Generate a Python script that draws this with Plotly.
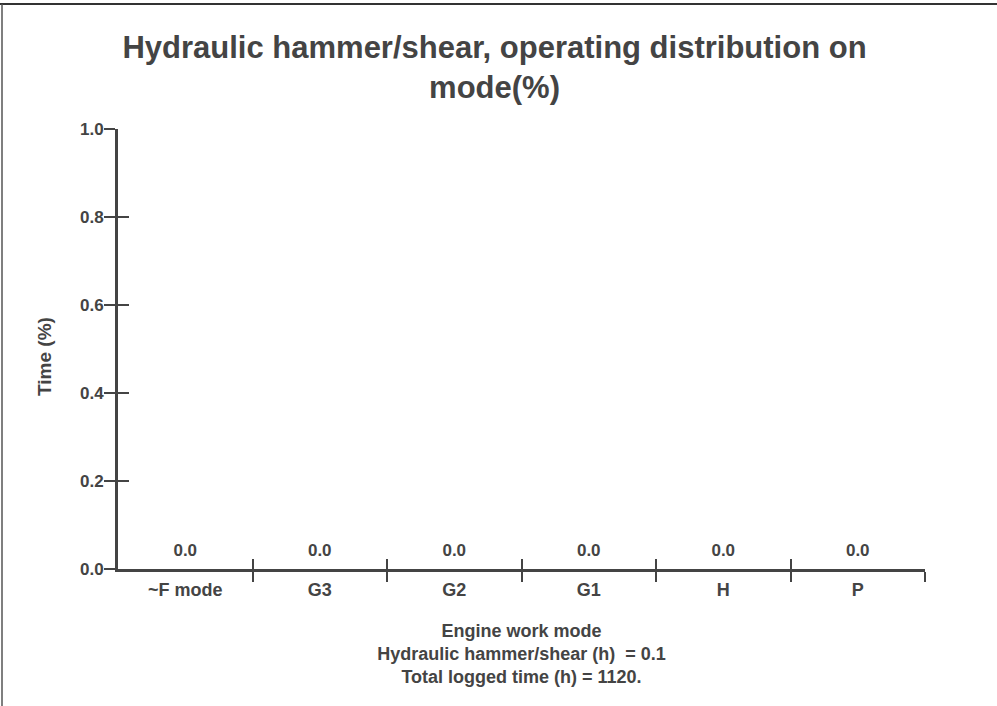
import plotly.graph_objects as go

modes = ["~F mode", "G3", "G2", "G1", "H", "P"]
time_pct = [0.0, 0.0, 0.0, 0.0, 0.0, 0.0]
y_ticks = [0.0, 0.2, 0.4, 0.6, 0.8, 1.0]

hammer_hours = "0.1"
total_hours = "1120."

ink = "#444444"
fnt = "Liberation Sans"

pos = list(range(len(modes)))
bounds = [p + 0.5 for p in pos]

fig = go.Figure()

fig.add_trace(go.Bar(
    x=pos, y=time_pct,
    marker=dict(color=ink, line=dict(width=0)),
    showlegend=False, hoverinfo="skip",
))

# value labels above each bar, on the overlay axes
fig.add_trace(go.Scatter(
    x=pos, y=time_pct,
    mode="markers+text",
    text=[f"<b>{v:.1f}</b>" for v in time_pct],
    textposition="top center",
    textfont=dict(family=fnt, size=17, color=ink),
    marker=dict(size=12, opacity=0),
    xaxis="x2", yaxis="y2",
    showlegend=False, hoverinfo="skip",
))

fig.update_layout(
    width=997, height=706,
    margin=dict(l=118, r=72, t=129, b=137),
    paper_bgcolor="white", plot_bgcolor="white",
    font=dict(family=fnt, size=17, color=ink),
    title=dict(
        text="<b>Hydraulic hammer/shear, operating distribution on<br>mode(%)</b>",
        x=0.496, xanchor="center", yref="container", y=0.918, yanchor="middle",
        font=dict(size=31, color=ink),
    ),
    xaxis=dict(
        range=[-0.5, 5.5], tickmode="array", tickvals=pos,
        ticktext=[f"<b>{m}</b>" for m in modes],
        tickfont=dict(size=18),
        ticks="outside", ticklen=2, tickcolor="rgba(0,0,0,0)",
        minor=dict(tickmode="array", tickvals=bounds, ticks="outside",
                   ticklen=10, tickwidth=2, tickcolor=ink),
        showline=True, linecolor=ink, linewidth=3, showgrid=False,
        zeroline=False, automargin=False,
        title=dict(
            text=("<b>Engine work mode<br>Hydraulic hammer/shear (h)  = "
                  + hammer_hours + "<br>Total logged time (h) = "
                  + total_hours + "</b>"),
            standoff=26, font=dict(size=18),
        ),
    ),
    xaxis2=dict(
        range=[-0.5, 5.5], overlaying="x", tickmode="array",
        tickvals=bounds, ticks="inside", ticklen=10, tickwidth=2,
        tickcolor=ink, showticklabels=False, showline=False,
        showgrid=False, zeroline=False,
    ),
    yaxis=dict(
        range=[0, 1], tickmode="array", tickvals=y_ticks,
        ticktext=[f"<b>{t:.1f}</b>" for t in y_ticks],
        ticks="outside", ticklen=11, tickwidth=2, tickcolor=ink,
        ticklabelstandoff=-3,
        showline=True, linecolor=ink, linewidth=3, showgrid=False,
        zeroline=False, automargin=False,
    ),
    yaxis2=dict(
        range=[0, 1], overlaying="y", tickmode="array", tickvals=y_ticks,
        ticks="inside", ticklen=11, tickwidth=2, tickcolor=ink,
        showticklabels=False, showline=False, showgrid=False,
        zeroline=False,
    ),
    annotations=[
        dict(text="<b>Time (%)</b>", textangle=-90, showarrow=False,
             xref="paper", yref="paper", x=(45 - 118) / 807, y=0.482,
             xanchor="center", yanchor="middle", font=dict(size=19)),
    ],
    shapes=[
        dict(type="line", xref="paper", yref="paper",
             x0=-118 / 807, x1=(997 - 118) / 807, y0=(706 - 4 - 137) / 440,
             y1=(706 - 4 - 137) / 440, line=dict(color="#333333", width=2)),
        dict(type="line", xref="paper", yref="paper",
             x0=-116 / 807, x1=-116 / 807, y0=(706 - 4 - 137) / 440,
             y1=-137 / 440, line=dict(color="#555555", width=1.5)),
    ],
)

fig.write_html("out.html", config={"displayModeBar": False},
               post_script="document.body.style.margin='0';")
